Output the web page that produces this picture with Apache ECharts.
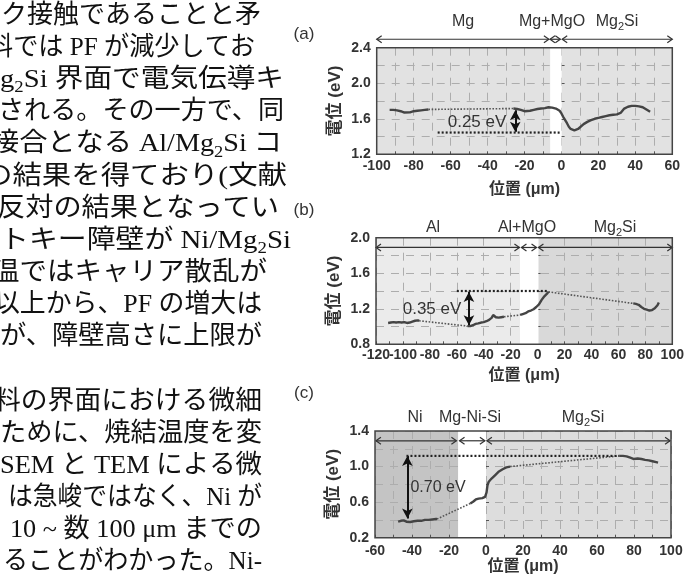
<!DOCTYPE html>
<html>
<head>
<meta charset="utf-8">
<script src="https://cdn.jsdelivr.net/npm/echarts@6/dist/echarts.min.js"></script>
<style>
html,body{margin:0;padding:0;background:#fff}
#main{width:688px;height:576px}
</style>
</head>
<body>
<div id="main"></div>
<script>
// 本文（左側の段落）
var leftLines = [
	'ク接触であることと矛',
	'料では PF が減少してお',
	'g₂Si 界面で電気伝導キ',
	'される。その一方で、同',
	'接合となる Al/Mg₂Si コ',
	'の結果を得ており(文献',
	'反対の結果となってい',
	'トキー障壁が Ni/Mg₂Si',
	'温ではキャリア散乱が',
	'以上から、PF の増大は',
	'が、障壁高さに上限が',
	'',
	'料の界面における微細',
	'ために、焼結温度を変',
	'SEM と TEM による微',
	'は急峻ではなく、Ni が',
	'10 ~ 数 100 μm までの',
	'ることがわかった。Ni-'
];
var leftStart = [1, -12, 0, -2, -9, -17, -3, 0, -8, -6, 0, 0, -6, 0, 0, 8, 10, 3];
var leftEnd = [261, 255, 284, 284, 282, 287, 279, 291, 267, 262, 262, 0, 262, 262, 262, 262, 262, 262];

// (a) Mg / Mg2Si
var aRange = [-100, 60, 1.2, 2.4];
var aSolid1 = [[-93,1.70],[-91,1.70],[-89,1.695],[-87,1.685],[-85,1.67],[-84,1.66],[-82,1.672],[-80,1.685],[-78,1.69],[-76,1.695],[-74,1.70],[-72,1.705]];
var aSolid2 = [[-26,1.715],[-24,1.71],[-22,1.70],[-20,1.685],[-19,1.676],[-17,1.69],[-15,1.70],[-13,1.71],[-11,1.715],[-9,1.72],[-7,1.73],[-5,1.725],[-3,1.715],[-1,1.69],[0,1.66],[1,1.62],[2,1.585],[3,1.55],[4,1.51],[5,1.485],[6,1.475],[7,1.47],[8,1.475],[9,1.485],[10,1.50],[12,1.54],[14,1.565],[16,1.585],[18,1.60],[20,1.61],[22,1.62],[24,1.63],[26,1.64],[28,1.645],[30,1.65],[32,1.665],[33,1.69],[34,1.715],[36,1.735],[38,1.745],[40,1.745],[42,1.74],[44,1.73],[46,1.705],[48,1.68]];
var aDots = [[[-72,1.705],[-26,1.715]]];
var aRef = [[-67,1.445],[-1,1.445]];
var aArrow = [-25, 1.695, 1.455];
var aShade = [[-100,-6],[0,60]];
var aWhite = [-6, 0];
var aSpans = [[-100,-6.8],[-6.2,-0.6],[0.4,60]];
var aSpanY = 2.495;

// (b) Al / Mg2Si
var bRange = [-120, 100, 0.8, 2.0];
var bSolid1 = [[-111,1.04],[-109,1.045],[-107,1.05],[-105,1.045],[-103,1.05],[-101,1.045],[-99,1.05],[-97,1.04],[-95,1.045],[-93,1.055],[-91,1.065],[-89,1.07],[-88,1.065]];
var bSolid2 = [[-52,1.005],[-50,1.005],[-48,1.015],[-46,1.03],[-44,1.035],[-42,1.045],[-40,1.05],[-38,1.06],[-36,1.075],[-34,1.10],[-33,1.13],[-32,1.125],[-31,1.105],[-29,1.10],[-27,1.105],[-25,1.11]];
var bSolid3 = [[-13,1.13],[-11,1.14],[-9,1.15],[-7,1.17],[-5,1.18],[-3,1.195],[-1,1.22],[1,1.25],[3,1.30],[5,1.34],[7,1.37],[8,1.39]];
var bSolid4 = [[71,1.26],[73,1.255],[75,1.245],[77,1.22],[79,1.20],[81,1.19],[83,1.18],[85,1.185],[87,1.205],[89,1.24],[90,1.27]];
var bDots = [[[-88,1.065],[-52,1.005]], [[-25,1.11],[-13,1.13]], [[8,1.39],[71,1.26]]];
var bRef = [[-60,1.40],[8,1.40]];
var bArrow = [-51, 1.39, 1.015];
var bShade = [[-120,-13],[0.5,100]];
var bWhite = [-13, 0.5];
var bSpans = [[-120,-13.5],[-12,-0.8],[0.6,100]];
var bSpanY = 1.89;

// (c) Ni / Mg2Si
var cRange = [-60, 100, 0.2, 1.4];
var cSolid1 = [[-47.5,0.38],[-46,0.39],[-44.5,0.395],[-43,0.38],[-42,0.37],[-41,0.375],[-39,0.385],[-37,0.39],[-35,0.39],[-33,0.40],[-31,0.40],[-29,0.405],[-27,0.41],[-26.5,0.41]];
var cSolid2 = [[-8.5,0.585],[-7,0.605],[-5.5,0.63],[-4,0.64],[-2,0.645],[-0.5,0.66],[0.3,0.71],[0.8,0.79],[1.5,0.83],[3,0.865],[5,0.905],[7,0.945],[9,0.97],[11,0.99],[13,1.0]];
var cSolid3 = [[72,1.12],[74,1.12],[76,1.115],[78,1.10],[80,1.085],[82,1.09],[84,1.085],[86,1.075],[88,1.07],[90,1.06],[92,1.05],[93,1.045]];
var cDots = [[[-26.5,0.41],[-8.5,0.585]], [[13,1.0],[72,1.12]]];
var cRef = [[-43,1.12],[72,1.12]];
var cArrow = [-42.5, 1.12, 0.415];
var cShade = [[-60,-15],[0,100]];
var cWhite = [-15, 0];
var cSpans = [[-59.5,-16],[-14.3,-0.6],[0.5,99.5]];
var cSpanY = 1.29;

var FONT_BODY = '"Liberation Serif", "Noto Sans CJK JP", "DejaVu Serif"';
var FONT_FIG = '"Liberation Sans", "Noto Sans CJK JP", "DejaVu Sans"';

var panels = [
	{ range: aRange, xStep: 10, solid: [aSolid1, aSolid2], dots: aDots, ref: aRef, arrow: aArrow, shade: aShade, white: aWhite,
	  shadeColor: ['#e2e2e2', '#e2e2e2'], spans: aSpans, spanY: aSpanY,
	  grid: { left: 376.7, top: 47.7, width: 295.6, height: 106.6 }, xGap: 27.5, xMargin: 5 },
	{ range: bRange, xStep: 20, solid: [bSolid1, bSolid2, bSolid3, bSolid4], dots: bDots, ref: bRef, arrow: bArrow, shade: bShade, white: bWhite,
	  shadeColor: ['#ebebeb', '#d9d9d9'], spans: bSpans, spanY: bSpanY,
	  grid: { left: 376, top: 237.7, width: 296.3, height: 106.6 }, xGap: 23, xMargin: 4 },
	{ range: cRange, xStep: 10, solid: [cSolid1, cSolid2, cSolid3], dots: cDots, ref: cRef, arrow: cArrow, shade: cShade, white: cWhite,
	  shadeColor: ['#c4c4c4', '#dddddd'], spans: cSpans, spanY: cSpanY,
	  grid: { left: 375, top: 431, width: 296, height: 106.7 }, xGap: 21, xMargin: 6 }
];

// 文字幅の計測
var mctx = document.createElement('canvas').getContext('2d');
function measure(str, size) {
	mctx.font = size + 'px ' + FONT_BODY;
	return mctx.measureText(str).width;
}

function toRich(str) {
	var out = '';
	str.split('₂').forEach(function(p, j) {
		if (j > 0) out += '{s|2}';
		if (p) out += '{n|' + p + '}';
	});
	return out;
}

function bodyLine(str, k) {
	var w = 0;
	str.split('₂').forEach(function(p, j) {
		if (j > 0) w += measure('2', 17);
		if (p) w += measure(p, 26);
	});
	return {
		type: 'text', x: leftStart[k], y: 16 + 32.15 * k, scaleX: (leftEnd[k] - leftStart[k]) / w, silent: true, z: 100,
		style: {
			text: toRich(str), align: 'left', verticalAlign: 'middle',
			rich: {
				n: { fontSize: 26, fontFamily: FONT_BODY, fill: '#111', lineHeight: 32 },
				s: { fontSize: 17, fontFamily: FONT_BODY, fill: '#111', lineHeight: 22, verticalAlign: 'bottom' }
			}
		}
	};
}

function figText(str, x, y, size, color) {
	return {
		type: 'text', x: x, y: y, silent: true, z: 100,
		style: {
			text: toRich(str), align: 'center', verticalAlign: 'middle',
			rich: {
				n: { fontSize: size, fontFamily: FONT_FIG, fill: color, lineHeight: size + 4 },
				s: { fontSize: Math.round(size * 0.68), fontFamily: FONT_FIG, fill: color, lineHeight: Math.round(size * 0.68) + 1, verticalAlign: 'bottom' }
			}
		}
	};
}

// 塗り分けの矩形
function rectRenderer(colors) {
	return function(params, api) {
		var p0 = api.coord([api.value(0), api.value(2)]);
		var p1 = api.coord([api.value(1), api.value(3)]);
		return {
			type: 'rect',
			shape: { x: p0[0], y: p0[1], width: p1[0] - p0[0], height: p1[1] - p0[1] },
			style: { fill: colors[params.dataIndex] }
		};
	};
}

// 領域を示す両矢印
function spanRenderer(params, api) {
	var a = api.coord([api.value(0), api.value(2)]);
	var b = api.coord([api.value(1), api.value(2)]);
	var st = { stroke: '#333', lineWidth: 1.2, fill: null };
	return {
		type: 'group',
		children: [
			{ type: 'line', shape: { x1: a[0], y1: a[1], x2: b[0], y2: b[1] }, style: st },
			{ type: 'polyline', shape: { points: [[a[0] + 5, a[1] - 3.5], [a[0], a[1]], [a[0] + 5, a[1] + 3.5]] }, style: st },
			{ type: 'polyline', shape: { points: [[b[0] - 5, b[1] - 3.5], [b[0], b[1]], [b[0] - 5, b[1] + 3.5]] }, style: st }
		]
	};
}

var gridLine = { color: '#adadad', type: [8, 7], width: 1 };
var grids = [], xAxes = [], yAxes = [], series = [];
panels.forEach(function(p, i) {
	var xi = 2 * i;
	grids.push({
		left: p.grid.left, top: p.grid.top, width: p.grid.width, height: p.grid.height, z: 10,
		show: true, borderColor: '#444', borderWidth: 1.5, backgroundColor: 'transparent',
		outerBoundsMode: 'none', containLabel: false
	});
	// 目盛ラベル用の x 軸
	xAxes.push({
		gridIndex: i, type: 'value', min: p.range[0], max: p.range[1], interval: 10, z: 2, position: 'bottom',
		name: '位置 (μm)', nameLocation: 'middle', nameGap: p.xGap, nameMoveOverlap: false,
		nameTextStyle: { fontFamily: FONT_FIG, fontWeight: 'bold', fontSize: 16, color: '#333' },
		axisLine: { show: false },
		axisTick: { show: true, inside: true, length: 3, lineStyle: { color: '#555' } },
		splitLine: { show: false },
		axisLabel: {
			margin: p.xMargin, fontFamily: FONT_FIG, fontWeight: 'bold', fontSize: 14, color: '#333',
			showMinLabel: true, showMaxLabel: true, hideOverlap: false,
			formatter: function(v) { return Math.round(v) % 20 === 0 ? String(Math.round(v)) : ''; }
		}
	});
	// グリッド線用の x 軸
	xAxes.push({
		gridIndex: i, type: 'value', min: p.range[0], max: p.range[1], interval: p.xStep, z: 2, position: 'top',
		axisLine: { show: false }, axisTick: { show: false }, axisLabel: { show: false },
		splitLine: { show: true, lineStyle: gridLine }
	});
	yAxes.push({
		gridIndex: i, type: 'value', min: p.range[2], max: p.range[3], interval: 0.2, z: 2,
		name: '電位 (eV)', nameLocation: 'middle', nameRotate: 90, nameGap: 33, nameMoveOverlap: false,
		nameTextStyle: { fontFamily: FONT_FIG, fontWeight: 'bold', fontSize: 17, color: '#333' },
		axisLine: { show: false },
		axisTick: { show: true, inside: true, length: 3, lineStyle: { color: '#555' } },
		splitLine: { show: true, lineStyle: gridLine },
		axisLabel: {
			margin: 6, fontFamily: FONT_FIG, fontWeight: 'bold', fontSize: 14, color: '#333',
			showMinLabel: true, showMaxLabel: true,
			formatter: function(v) {
				var k = Math.round((v - p.range[2]) / 0.2);
				return k % 2 === 0 ? v.toFixed(1) : '';
			}
		}
	});
	// 灰色の領域（グリッド線の下）
	series.push({
		type: 'custom', xAxisIndex: xi, yAxisIndex: i, z: 1, silent: true,
		renderItem: rectRenderer(p.shadeColor),
		data: p.shade.map(function(r) { return [r[0], r[1], p.range[3], p.range[2]]; })
	});
	// 白い帯（グリッド線の上）
	series.push({
		type: 'custom', xAxisIndex: xi, yAxisIndex: i, z: 3, silent: true,
		renderItem: rectRenderer(['#ffffff']),
		data: [[p.white[0], p.white[1], p.range[3], p.range[2]]]
	});
	p.solid.forEach(function(seg) {
		series.push({ type: 'line', xAxisIndex: xi, yAxisIndex: i, data: seg, symbol: 'none', z: 6, silent: true,
			lineStyle: { color: '#444', width: 2.4 } });
	});
	p.dots.forEach(function(seg) {
		series.push({ type: 'line', xAxisIndex: xi, yAxisIndex: i, data: seg, symbol: 'none', z: 5, silent: true,
			lineStyle: { color: '#555', width: 1.6, type: 'dotted' } });
	});
	series.push({ type: 'line', xAxisIndex: xi, yAxisIndex: i, data: p.ref, symbol: 'none', z: 5, silent: true,
		lineStyle: { color: '#222', width: 2.2, type: [2, 2] } });
	// 電位差の矢印
	series.push({
		type: 'line', xAxisIndex: xi, yAxisIndex: i, data: [], z: 7,
		markLine: {
			silent: true, label: { show: false }, symbol: ['arrow', 'arrow'], symbolSize: [8, 10],
			lineStyle: { color: '#111', width: 2, type: 'solid' },
			data: [[{ coord: [p.arrow[0], p.arrow[1]] }, { coord: [p.arrow[0], p.arrow[2]] }]]
		}
	});
	series.push({
		type: 'custom', xAxisIndex: xi, yAxisIndex: i, z: 7, silent: true, clip: false,
		renderItem: spanRenderer,
		data: p.spans.map(function(s) { return [s[0], s[1], p.spanY]; })
	});
});

var graphics = [];
leftLines.forEach(function(t, k) { if (t) graphics.push(bodyLine(t, k)); });
graphics.push(figText('(a)', 304, 34, 17, '#333'));
graphics.push(figText('(b)', 304, 210, 17, '#333'));
graphics.push(figText('(c)', 304, 393, 17, '#333'));
graphics.push(figText('Mg', 463, 22, 16, '#333'));
graphics.push(figText('Mg+MgO', 552, 22, 16, '#333'));
graphics.push(figText('Mg₂Si', 617, 22, 16, '#333'));
graphics.push(figText('Al', 433, 228, 16, '#333'));
graphics.push(figText('Al+MgO', 527, 228, 16, '#333'));
graphics.push(figText('Mg₂Si', 615, 228, 16, '#333'));
graphics.push(figText('Ni', 415, 418, 16, '#333'));
graphics.push(figText('Mg-Ni-Si', 470, 418, 16, '#333'));
graphics.push(figText('Mg₂Si', 583, 418, 16, '#333'));
graphics.push(figText('0.25 eV', 477, 122, 17, '#333'));
graphics.push(figText('0.35 eV', 432, 309, 17, '#333'));
graphics.push(figText('0.70 eV', 438, 488, 16, '#333'));

var chart = echarts.init(document.getElementById('main'), null, { renderer: 'canvas' });
chart.setOption({
	backgroundColor: '#fff',
	animation: false,
	grid: grids,
	xAxis: xAxes,
	yAxis: yAxes,
	series: series,
	graphic: { elements: graphics }
});
</script>
</body>
</html>
